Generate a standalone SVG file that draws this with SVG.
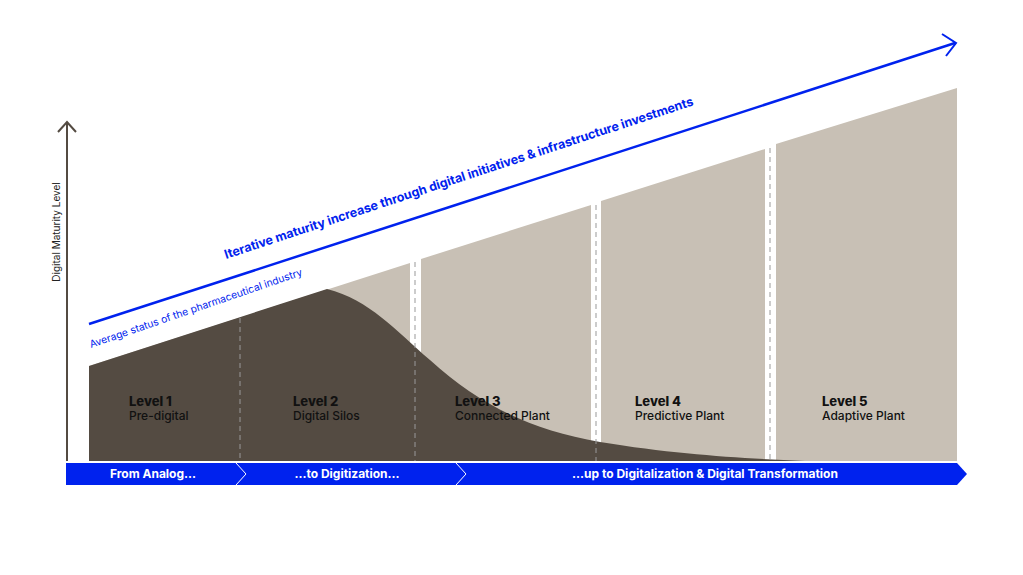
<svg xmlns="http://www.w3.org/2000/svg" width="1023" height="575" viewBox="0 0 1023 575">
<style>
.lv{font-family:Inter,"Liberation Sans",sans-serif;font-weight:800;font-size:13px;fill:#111}
.sub{font-family:Inter,"Liberation Sans",sans-serif;font-weight:500;font-size:12px;fill:#111}
.ban{font-family:Inter,"Liberation Sans",sans-serif;font-weight:700;font-size:12px;fill:#fff}
.dash{stroke:#999;stroke-width:1;stroke-dasharray:5,4}
</style>
<rect width="1023" height="575" fill="#fff"/>
<g id="columns">
<polygon points="89,366 410,263 410,461 89,461" fill="#c8c0b5"/>
<polygon points="421,259 591,205 591,461 421,461" fill="#c8c0b5"/>
<polygon points="601,201 765,149 765,461 601,461" fill="#c8c0b5"/>
<polygon points="776,144 957,88 957,461 776,461" fill="#c8c0b5"/>
</g>
<g id="dark">
<path d="M89,366 L327,289 C370,300 395,330 430,360 C480,405 530,430 600,442 C680,455 740,458 805,461 L89,461 Z" fill="#544b42"/>
</g>
<g id="dashes">
<line class="dash" x1="240" y1="318" x2="240" y2="461"/>
<line class="dash" x1="415" y1="262" x2="415" y2="461"/>
<line class="dash" x1="596" y1="205" x2="596" y2="461"/>
<line class="dash" x1="770" y1="148" x2="770" y2="461"/>
</g>
<g id="axis" fill="none" stroke="#544b42" stroke-width="2">
<line x1="67" y1="123" x2="67" y2="461"/>
<polyline points="58,132 67,122 76,132"/>
</g>
<text transform="translate(60,232) rotate(-90)" text-anchor="middle" font-family="Inter,'Liberation Sans',sans-serif" font-size="10" fill="#222">Digital Maturity Level</text>
<g id="connectors" fill="none" stroke="#0022ee" stroke-width="2.5">
<line x1="89" y1="324" x2="955" y2="43"/>
<polyline points="942,34 956,43 946,56" stroke-width="2"/>
</g>
<text transform="translate(226,259) rotate(-18.2)" font-family="Inter,'Liberation Sans',sans-serif" font-weight="700" font-size="12.5" fill="#0022ee">Iterative maturity increase through digital initiatives &amp; infrastructure investments</text>
<text transform="translate(91,348) rotate(-19)" font-family="Inter,'Liberation Sans',sans-serif" font-size="10.3" fill="#0022ee">Average status of the pharmaceutical industry</text>
<g id="levels">
<text class="lv" x="129" y="406">Level 1</text><text class="sub" x="129" y="420">Pre-digital</text>
<text class="lv" x="293" y="406">Level 2</text><text class="sub" x="293" y="420">Digital Silos</text>
<text class="lv" x="455" y="406">Level 3</text><text class="sub" x="455" y="420">Connected Plant</text>
<text class="lv" x="635" y="406">Level 4</text><text class="sub" x="635" y="420">Predictive Plant</text>
<text class="lv" x="822" y="406">Level 5</text><text class="sub" x="822" y="420">Adaptive Plant</text>
</g>
<g id="banner">
<polygon points="66,463 957,463 967,474 957,485 66,485" fill="#0022ee"/>
<polyline points="236,463 246,474 236,485" fill="none" stroke="#fff" stroke-width="1"/>
<polyline points="456,463 466,474 456,485" fill="none" stroke="#fff" stroke-width="1"/>
<text class="ban" x="153" y="478" text-anchor="middle">From Analog...</text>
<text class="ban" x="347" y="478" text-anchor="middle">...to Digitization...</text>
<text class="ban" x="705" y="478" text-anchor="middle">...up to Digitalization &amp; Digital Transformation</text>
</g>
</svg>
